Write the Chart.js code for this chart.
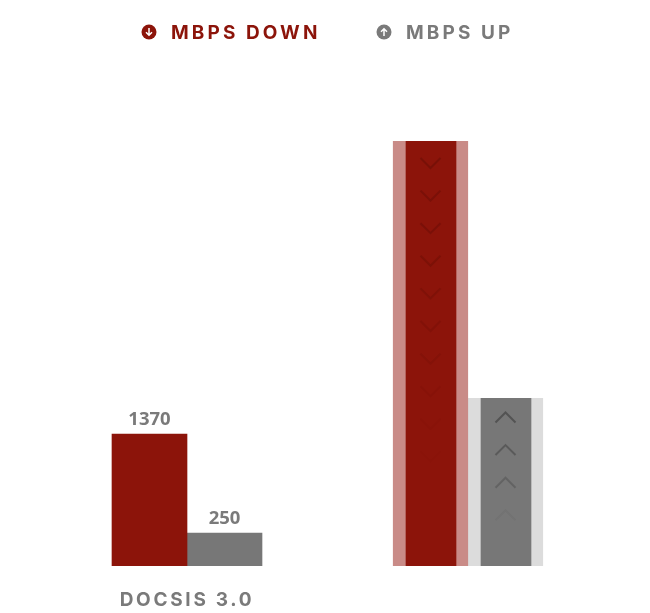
<!DOCTYPE html>
<html>
<head>
<meta charset="utf-8">
<style>
  body { margin: 0; background: #fff; }
  #wrap { position: relative; width: 650px; height: 613px; overflow: hidden; }
  .leg { position: absolute; top: 21px; height: 24px; line-height: 24px; white-space: nowrap;
         font: 700 19px Inter, sans-serif; letter-spacing: 3.1px; }
  .leg svg { position: absolute; left: 0; top: 3px; }
  .leg span { position: absolute; top: 0; }
</style>
</head>
<body>
<div id="wrap">
  <canvas id="speedChart" width="650" height="613"></canvas>
  <div class="leg" style="left:141px;color:#8c140a">
    <svg width="16" height="16" viewBox="0 0 16 16"><circle cx="8" cy="8" r="7.5" fill="#8c140a"/><path d="M8 4v7M5 8.2 8 11.2 11 8.2" fill="none" stroke="#fff" stroke-width="1.5"/></svg>
    <span style="left:30px">MBPS DOWN</span>
  </div>
  <div class="leg" style="left:376px;color:#7a7a7a">
    <svg width="16" height="16" viewBox="0 0 16 16"><circle cx="8" cy="8" r="7.5" fill="#7a7a7a"/><path d="M8 12V5M5 7.8 8 4.8 11 7.8" fill="none" stroke="#fff" stroke-width="1.5"/></svg>
    <span style="left:30px">MBPS UP</span>
  </div>
</div>
<script src="https://cdn.jsdelivr.net/npm/chart.js@4"></script>
<script>
const categories = ["DOCSIS 3.0", ""];
const mbpsDown = [1370, 4410];
const mbpsUp = [250, 1273];
const valueLabels = ["1370", "250"];

// each series has its own hidden axis, the picture does not share a scale
const downMax = 4410;
const upMax = 3220;

const red = "#8c140a";
const redLight = "#c98b87";
const grey = "#777777";
const greyLight = "#dcdcdc";

const downFade = [0.42, 0.4, 0.38, 0.34, 0.28, 0.22, 0.16, 0.1, 0.06, 0.03];
const upFade = [0.42, 0.34, 0.22, 0.04];

// the second group has a narrow solid bar with a pale band either side
const band = ctx => ctx.dataIndex === 1 ? {left: 13, right: 12, top: 0, bottom: 0} : 0;

function chevron(ctx, x, y, dir, color, alpha) {
    ctx.globalAlpha = alpha;
    ctx.strokeStyle = color;
    ctx.lineWidth = 2;
    ctx.beginPath();
    ctx.moveTo(x - 10, y - dir * 5);
    ctx.lineTo(x, y + dir * 5);
    ctx.lineTo(x + 10, y - dir * 5);
    ctx.stroke();
}

const extras = {
    id: "extras",
    beforeDraw(chart) {
        chart.ctx.letterSpacing = "2.7px";
    },
    afterDatasetsDraw(chart) {
        const ctx = chart.ctx;
        ctx.save();
        ctx.letterSpacing = "0px";

        //value labels on the first group
        ctx.font = "700 18.5px 'Open Sans', sans-serif";
        ctx.fillStyle = "#7a7a7a";
        ctx.textAlign = "center";
        ctx.textBaseline = "alphabetic";
        valueLabels.forEach((text, i) => {
            const bar = chart.getDatasetMeta(i).data[0];
            ctx.fillText(text, bar.x, bar.y - 9);
        });

        //chevrons fading down the second group
        const downBar = chart.getDatasetMeta(0).data[1];
        downFade.forEach((a, i) => chevron(ctx, downBar.x, downBar.y + 22 + i * 32.6, 1, "#5e0b04", a));
        const upBar = chart.getDatasetMeta(1).data[1];
        upFade.forEach((a, i) => chevron(ctx, upBar.x, upBar.y + 19.5 + i * 32.6, -1, "#222222", a));
        ctx.restore();
    }
};

new Chart(document.getElementById("speedChart"), {
    type: "bar",
    data: {
        labels: categories,
        datasets: [
            {
                label: "Mbps Down",
                data: mbpsDown,
                yAxisID: "yDown",
                backgroundColor: red,
                borderColor: redLight,
                borderWidth: band,
                borderSkipped: false,
                barThickness: 75
            },
            {
                label: "Mbps Up",
                data: mbpsUp,
                yAxisID: "yUp",
                backgroundColor: grey,
                borderColor: greyLight,
                borderWidth: band,
                borderSkipped: false,
                barThickness: 75
            }
        ]
    },
    options: {
        responsive: false,
        animation: false,
        layout: {padding: {left: 46.5, right: 41.5, top: 141, bottom: 0}},
        plugins: {legend: {display: false}, tooltip: {enabled: false}},
        scales: {
            x: {
                grid: {display: false},
                border: {display: false},
                ticks: {
                    autoSkip: false,
                    maxRotation: 0,
                    padding: 15,
                    color: "#7a7a7a",
                    font: {family: "Inter, sans-serif", size: 19, weight: "700"}
                },
                afterFit(scale) { scale.height = 47; }
            },
            yDown: {display: false, min: 0, max: downMax},
            yUp: {display: false, min: 0, max: upMax}
        }
    },
    plugins: [extras]
});
</script>
</body>
</html>
